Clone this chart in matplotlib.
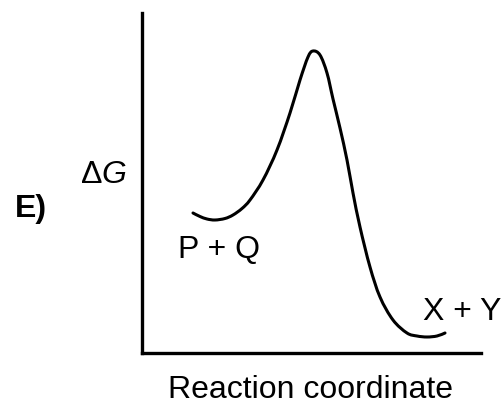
import numpy as np
import matplotlib
matplotlib.use('Agg')
import matplotlib.pyplot as plt
from matplotlib.path import Path
from matplotlib.patches import PathPatch

plt.rcParams['font.family'] = 'Liberation Sans'
plt.rcParams['mathtext.fontset'] = 'custom'
plt.rcParams['mathtext.rm'] = 'Liberation Sans'
plt.rcParams['mathtext.it'] = 'Liberation Sans:italic'

# reaction coordinate vs free energy (arbitrary units)
coord = [51, 58, 65, 73, 83, 91, 100, 108, 121, 135, 148, 158, 166, 171, 178,
         185, 191, 198, 205, 211, 218, 228, 238, 251, 265, 275, 285, 295, 303]
energy = [140, 136.5, 134, 133, 134.5, 138, 144.5, 153, 173, 203, 240, 273,
          296, 302, 298, 280, 254, 225, 193, 160, 126, 86, 56, 33, 20, 17, 16,
          17, 20]

W, H = 503, 405
fig = plt.figure(figsize=(W / 100, H / 100), dpi=100)
ax = fig.add_axes([142 / W, (H - 353) / H, (481 - 142) / W, (353 - 13) / H])

# smooth curve through the read points (Catmull-Rom drawn as Bezier segments)
pts = np.column_stack([coord, energy]).astype(float)
ext = np.vstack([pts[0], pts, pts[-1]])
verts = [pts[0]]
codes = [Path.MOVETO]
for i in range(1, len(ext) - 2):
    p0, p1, p2, p3 = ext[i - 1], ext[i], ext[i + 1], ext[i + 2]
    verts += [p1 + (p2 - p0) / 6, p2 - (p3 - p1) / 6, p2]
    codes += [Path.CURVE4] * 3
ax.add_patch(PathPatch(Path(verts, codes), fill=False, edgecolor='black',
                       lw=2.2, capstyle='round', joinstyle='round'))

ax.set_xlim(0, 339)
ax.set_ylim(0, 340)
for s in ['top', 'right']:
    ax.spines[s].set_visible(False)
for s in ['left', 'bottom']:
    ax.spines[s].set_linewidth(2.4)
ax.set_xticks([])
ax.set_yticks([])


def px(x, y):
    return x / W, 1 - y / H


fs = 23
fig.text(*px(310, 398), 'Reaction coordinate', fontsize=fs, ha='center', va='baseline')
fig.text(*px(423, 320), 'X + Y', fontsize=fs, ha='left', va='baseline')
fig.text(*px(178, 258), 'P + Q', fontsize=fs, ha='left', va='baseline')
fig.text(*px(80, 183), r'$\Delta G$', fontsize=fs, ha='left', va='baseline')
fig.text(*px(15, 217), 'E)', fontsize=fs, fontweight='bold', ha='left', va='baseline')

plt.savefig('out.png', dpi=100)
